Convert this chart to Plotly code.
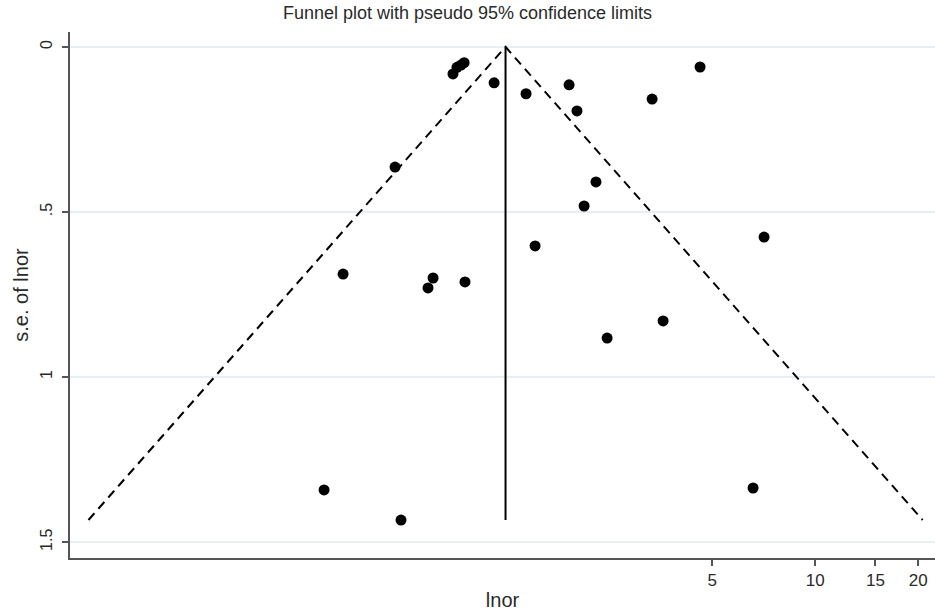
import numpy as np
import plotly.graph_objects as go

# Study estimates (log odds ratio) and their standard errors
lnor = [-0.137, -0.110, -0.083, -0.062, 0.140, 0.355, 0.645, 0.698, 1.204, 1.527,
        -0.527, 0.826, 0.746, 0.416, 1.958, -0.877, -0.271, -0.305, -0.056, 1.278,
        0.901, -1.005, -0.487, 1.884]
se_lnor = [0.082, 0.062, 0.055, 0.048, 0.109, 0.142, 0.115, 0.194, 0.158, 0.061,
           0.364, 0.409, 0.482, 0.603, 0.576, 0.688, 0.700, 0.730, 0.712, 0.830,
           0.882, 1.342, 1.433, 1.336]
pooled = 0.217
or_ticks = [5, 10, 15, 20]
y_ticks = [0, 0.5, 1, 1.5]
y_ticktext = ["0", ".5", "1", "1.5"]

se_max = max(se_lnor)
fx = [pooled - 1.96 * se_max, pooled, pooled + 1.96 * se_max]
fy = [se_max, 0, se_max]

fig = go.Figure()
fig.add_trace(go.Scatter(x=fx, y=fy, mode="lines",
                         line=dict(color="black", width=2, dash="9px,6px"),
                         hoverinfo="skip", showlegend=False))
fig.add_trace(go.Scatter(x=[pooled, pooled], y=[0, se_max], mode="lines",
                         line=dict(color="black", width=2),
                         hoverinfo="skip", showlegend=False))
fig.add_trace(go.Scatter(x=lnor, y=se_lnor, mode="markers",
                         marker=dict(color="black", size=11),
                         showlegend=False))

font = "Liberation Sans, Arial, sans-serif"
txt = "#2a2a2a"
fig.update_layout(
    width=935, height=612,
    margin=dict(l=70, r=0, t=32, b=54),
    paper_bgcolor="white", plot_bgcolor="white",
    font=dict(family=font, color=txt),
    title=dict(text="Funnel plot with pseudo 95% confidence limits",
               x=0.5, xanchor="center", y=0.99, yanchor="top",
               font=dict(size=18, color=txt)),
    xaxis=dict(
        range=[-2.716, 3.109],
        tickvals=list(np.log(or_ticks)), ticktext=[str(v) for v in or_ticks],
        showgrid=False, zeroline=False,
        showline=True, linecolor="#555", linewidth=2,
        ticks="outside", ticklen=6, tickcolor="#555", tickwidth=1.5,
        tickfont=dict(size=17, color=txt),
        title=dict(text="lnor", font=dict(size=20, color=txt), standoff=4),
    ),
    yaxis=dict(
        range=[1.548, -0.045],
        tickvals=y_ticks, ticktext=y_ticktext, tickangle=-90,
        ticklabelstandoff=4,
        showgrid=True, gridcolor="#e6eff1", gridwidth=1.5,
        zeroline=False,
        showline=True, linecolor="#555", linewidth=2,
        ticks="outside", ticklen=6, tickcolor="#555", tickwidth=1.5,
        tickfont=dict(size=16, color=txt),
        title=dict(text="s.e. of lnor", font=dict(size=20, color=txt), standoff=4),
    ),
)
fig.write_html("out.html")
